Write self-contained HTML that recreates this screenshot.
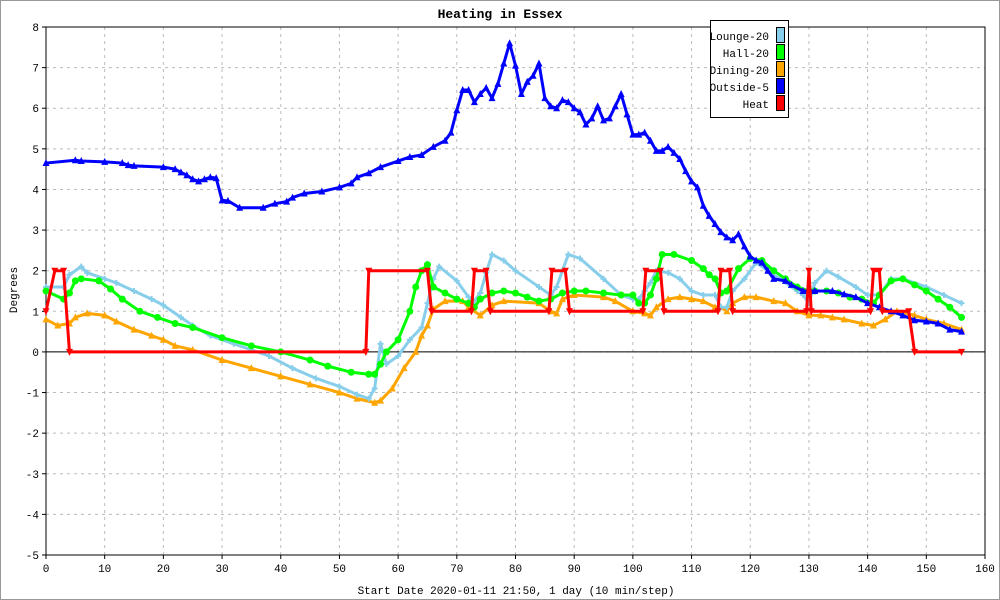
<!DOCTYPE html>
<html><head><meta charset="utf-8"><style>
body{margin:0;background:#fff}
svg{display:block;font-family:"Liberation Mono","DejaVu Sans Mono",monospace}
</style></head><body>
<svg id="chart" width="1000" height="600">
<rect x="0.5" y="0.5" width="999" height="599" fill="#fff" stroke="#999"/>
<g id="grid"></g>
<g id="axes"></g>
<g id="series"></g>
<text x="500" y="18" text-anchor="middle" font-size="13" font-weight="bold">Heating in Essex</text>
<text x="516" y="594" text-anchor="middle" font-size="11">Start Date 2020-01-11 21:50, 1 day (10 min/step)</text>
<text transform="translate(17,290) rotate(-90)" text-anchor="middle" font-size="11">Degrees</text>
<g id="legend">
<rect x="710.5" y="20.5" width="78" height="97" fill="#fff" stroke="#000"/>
</g>
</svg>
<script>
const xTicks=[0,10,20,30,40,50,60,70,80,90,100,110,120,130,140,150,160];
const yTicks=[-5,-4,-3,-2,-1,0,1,2,3,4,5,6,7,8];
const seriesNames=["Lounge-20","Hall-20","Dining-20","Outside-5","Heat"];
const seriesColors=["#87ceeb","#00ff00","#ffa500","#0000ff","#ff0000"];
const loungeX=[0,3,4,6,7,10,12,15,18,20,23,25,28,32,35,38,42,46,50,53,55,56,57,58,60,62,64,65,66,67,70,72,73,74,75,76,78,80,84,86,87,88,89,91,95,98,100,101,102,103,104,106,108,110,112,114,115,116,117,119,121,123,125,128,129,130,131,133,135,138,140,142,144,146,150,153,156];
const loungeY=[1.6,1.6,1.9,2.1,1.95,1.8,1.7,1.5,1.3,1.15,0.85,0.65,0.4,0.2,0.05,-0.1,-0.4,-0.65,-0.85,-1.05,-1.15,-0.9,0.2,-0.3,-0.1,0.3,0.6,1.2,1.8,2.1,1.75,1.35,1.25,1.45,1.95,2.4,2.25,2.0,1.6,1.4,1.6,2.0,2.4,2.3,1.8,1.4,1.3,1.3,1.5,1.7,2.0,1.95,1.8,1.5,1.4,1.4,1.1,1.1,1.5,1.8,2.2,2.0,1.8,1.5,1.4,1.2,1.7,2.0,1.85,1.6,1.4,1.4,1.8,1.8,1.6,1.4,1.2];
const hallX=[0,3,4,5,6,9,11,13,16,19,22,25,30,35,40,45,48,52,55,56,57,58,60,62,63,64,65,66,68,70,72,73,74,76,78,80,82,84,86,88,90,92,95,98,100,101,102,103,104,105,107,110,112,113,114,115,116,118,120,122,124,126,128,130,131,133,135,137,139,141,142,144,146,148,150,152,154,156];
const hallY=[1.5,1.3,1.45,1.75,1.8,1.75,1.55,1.3,1.0,0.85,0.7,0.6,0.35,0.15,0.0,-0.2,-0.35,-0.5,-0.55,-0.55,-0.3,0.0,0.3,1.0,1.6,2.0,2.15,1.6,1.45,1.3,1.2,1.1,1.3,1.45,1.5,1.45,1.35,1.25,1.3,1.45,1.5,1.5,1.45,1.4,1.4,1.2,1.2,1.4,1.8,2.4,2.4,2.25,2.05,1.9,1.8,1.45,1.5,2.05,2.3,2.25,2.0,1.8,1.6,1.5,1.5,1.5,1.45,1.35,1.3,1.2,1.4,1.75,1.8,1.65,1.5,1.3,1.1,0.85];
const diningX=[0,2,4,5,7,10,12,15,18,20,22,25,30,35,40,45,50,53,56,57,59,61,63,64,65,66,68,71,72,74,76,78,84,86,87,88,90,95,97,100,102,103,104,106,108,110,112,114,115,116,117,119,121,124,126,128,130,132,134,136,139,141,143,145,148,150,153,156];
const diningY=[0.8,0.65,0.7,0.85,0.95,0.9,0.75,0.55,0.4,0.3,0.15,0.05,-0.2,-0.4,-0.6,-0.8,-1.0,-1.15,-1.25,-1.2,-0.9,-0.4,0.0,0.4,0.65,1.05,1.25,1.25,1.1,0.9,1.15,1.25,1.2,1.0,0.95,1.3,1.4,1.35,1.25,1.0,0.95,0.9,1.1,1.3,1.35,1.3,1.25,1.1,1.1,1.0,1.2,1.35,1.35,1.25,1.2,1.0,0.9,0.9,0.85,0.8,0.7,0.65,0.8,1.0,0.9,0.8,0.7,0.55];
const outsideX=[0,5,6,10,13,14,15,20,22,23,24,25,26,27,28,29,30,31,33,37,39,41,42,44,47,50,52,53,55,57,60,62,64,66,68,69,70,71,72,73,74,75,76,77,78,79,80,81,82,83,84,85,86,87,88,89,90,91,92,93,94,95,96,97,98,99,100,101,102,103,104,105,106,107,108,109,110,111,112,113,114,115,116,117,118,119,120,121,122,123,124,126,127,129,131,134,136,138,140,142,144,146,148,150,152,154,156];
const outsideY=[4.65,4.72,4.7,4.68,4.65,4.6,4.58,4.55,4.5,4.42,4.35,4.25,4.2,4.25,4.3,4.28,3.73,3.72,3.55,3.55,3.65,3.7,3.8,3.9,3.95,4.05,4.15,4.3,4.4,4.55,4.7,4.8,4.85,5.05,5.2,5.4,5.95,6.45,6.45,6.15,6.35,6.5,6.25,6.6,7.1,7.6,7.05,6.35,6.65,6.8,7.1,6.25,6.05,6.0,6.2,6.15,6.0,5.9,5.6,5.75,6.05,5.7,5.75,6.05,6.35,5.85,5.35,5.35,5.4,5.2,4.95,4.95,5.05,4.9,4.75,4.45,4.2,4.05,3.6,3.35,3.15,2.95,2.82,2.75,2.9,2.6,2.35,2.25,2.2,2.0,1.8,1.75,1.65,1.5,1.5,1.5,1.42,1.35,1.2,1.1,1.0,0.9,0.78,0.75,0.7,0.55,0.5];
const heatX=[0,1.5,3,4,54.5,55,65,65.7,72.5,73,75,75.7,85.7,86.2,88.5,89.2,101.7,102.2,104.7,105.3,114.5,115,116.5,117,129.6,130,130.4,140.5,141,142,142.5,147,148,156];
const heatY=[1,2,2,0,0,2,2,1,1,2,2,1,1,2,2,1,1,2,2,1,1,2,2,1,1,2,1,1,2,2,1,1,0,0];

const X0=46,X1=985,Y0=555,Y1=27;
const sx=v=>X0+(v-0)/(160-0)*(X1-X0);
const sy=v=>Y0-(v-(-5))/(8-(-5))*(Y0-Y1);
const NS="http://www.w3.org/2000/svg";
function mk(tag,attrs,parent){const e=document.createElementNS(NS,tag);for(const k in attrs)e.setAttribute(k,attrs[k]);parent.appendChild(e);return e;}
const grid=document.getElementById('grid'),axes=document.getElementById('axes'),ser=document.getElementById('series'),leg=document.getElementById('legend');
mk('rect',{x:X0,y:Y1,width:X1-X0,height:Y0-Y1,fill:'#fff',stroke:'none'},grid);
xTicks.forEach(t=>{
  const l=mk('line',{x1:sx(t),x2:sx(t),y1:Y1,y2:Y0,stroke:'#bbb','stroke-dasharray':'3,4'},grid);
  
  
  const tk=mk('line',{x1:sx(t),x2:sx(t),y1:Y0,y2:Y0+4,stroke:'#000'},axes);
  
  
  const tx=mk('text',{x:sx(t),y:Y0+17,'text-anchor':'middle','font-size':11},axes);
  tx.textContent=t;
  
  
});
yTicks.forEach(t=>{
  const l=mk('line',{x1:X0,x2:X1,y1:sy(t),y2:sy(t),stroke:'#bbb','stroke-dasharray':'3,4'},grid);
  
  
  const tk=mk('line',{x1:X0-4,x2:X0,y1:sy(t),y2:sy(t),stroke:'#000'},axes);
  
  
  const tx=mk('text',{x:X0-7,y:sy(t)+4,'text-anchor':'end','font-size':11},axes);
  tx.textContent=t;
  
  
});
const zl=mk('line',{x1:X0,x2:X1,y1:sy(0),y2:sy(0),stroke:'#000'},axes);


const fr=mk('rect',{x:X0,y:Y1,width:X1-X0,height:Y0-Y1,fill:'none',stroke:'#000'},axes);



function marker(kind,x,y,c,g){
  if(kind==='circle')return mk('circle',{cx:x,cy:y,r:3.5,fill:c},g);
  if(kind==='tri')return mk('polygon',{points:`${x},${y-4} ${x-3.5},${y+3} ${x+3.5},${y+3}`,fill:c},g);
  if(kind==='dtri')return mk('polygon',{points:`${x},${y+4} ${x-3.5},${y-3} ${x+3.5},${y-3}`,fill:c},g);
  return mk('path',{d:`M${x-3},${y}H${x+3}M${x},${y-3}V${y+3}`,stroke:c,'stroke-width':2},g);
}
function drawSeries(xs,ys,c,kind,name,step){
  const g=mk('g',{},ser);
  
  
  const p=mk('polyline',{points:xs.map((x,i)=>sx(x)+','+sy(ys[i])).join(' '),fill:'none',stroke:c,'stroke-width':3,'stroke-linejoin':'round'},g);
  
  
  xs.forEach((x,i)=>{
    const m=marker(kind,sx(x),sy(ys[i]),c,g);
    
    
  });
}
drawSeries(diningX,diningY,seriesColors[2],'tri','dining');
drawSeries(loungeX,loungeY,seriesColors[0],'cross','lounge');
drawSeries(hallX,hallY,seriesColors[1],'circle','hall');
drawSeries(outsideX,outsideY,seriesColors[3],'tri','outside');
drawSeries(heatX,heatY,seriesColors[4],'dtri','heat');

seriesNames.forEach((n,i)=>{
  const y=40+i*17;
  const t=mk('text',{x:769,y:y,'text-anchor':'end','font-size':11},leg);
  t.textContent=n;
  
  
  const r=mk('rect',{x:776.5,y:y-12.5,width:8,height:15,fill:seriesColors[i],stroke:'#000'},leg);
  
  
});
</script>
</body></html>
